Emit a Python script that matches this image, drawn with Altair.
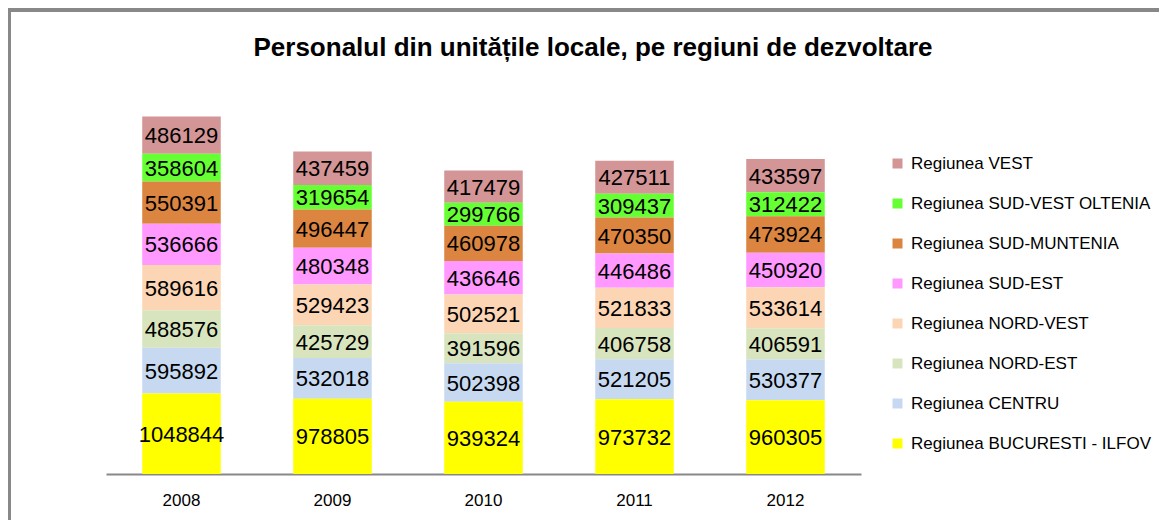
import altair as alt
import pandas as pd

years = ["2008", "2009", "2010", "2011", "2012"]
regions = [
    "Regiunea VEST",
    "Regiunea SUD-VEST OLTENIA",
    "Regiunea SUD-MUNTENIA",
    "Regiunea SUD-EST",
    "Regiunea NORD-VEST",
    "Regiunea NORD-EST",
    "Regiunea CENTRU",
    "Regiunea BUCURESTI - ILFOV",
]
colors = ["#D39595", "#66FF33", "#DB8540", "#FF99FF", "#FCD5B5", "#D7E4BD", "#C6D9F1", "#FFFF00"]

vest = [486129, 437459, 417479, 427511, 433597]
sud_vest_oltenia = [358604, 319654, 299766, 309437, 312422]
sud_muntenia = [550391, 496447, 460978, 470350, 473924]
sud_est = [536666, 480348, 436646, 446486, 450920]
nord_vest = [589616, 529423, 502521, 521833, 533614]
nord_est = [488576, 425729, 391596, 406758, 406591]
centru = [595892, 532018, 502398, 521205, 530377]
bucuresti_ilfov = [1048844, 978805, 939324, 973732, 960305]

series = [vest, sud_vest_oltenia, sud_muntenia, sud_est, nord_vest, nord_est, centru, bucuresti_ilfov]

rows = []
for i, (reg, vals) in enumerate(zip(regions, series)):
    for y, v in zip(years, vals):
        rows.append({"year": y, "region": reg, "value": v, "ord": len(regions) - 1 - i})
df = pd.DataFrame(rows)

FONT = "Liberation Sans"

base = alt.Chart(df).transform_stack(
    stack="value", groupby=["year"], as_=["y0", "y1"],
    sort=[alt.SortField("ord", order="ascending")],
).transform_calculate(mid="(datum.y0 + datum.y1) / 2")

x_enc = alt.X("year:N", title=None, sort=years,
              scale=alt.Scale(paddingInner=0.48, paddingOuter=0.24),
              axis=alt.Axis(labelAngle=0, labelFont=FONT, labelFontSize=17, labelColor="#000",
                            ticks=False, domainColor="#888", domainWidth=2, labelPadding=18,
                            grid=False))
y_scale = alt.Scale(domain=[0, 5000000], nice=False)

bars = base.mark_bar().encode(
    x=x_enc,
    y=alt.Y("y0:Q", scale=y_scale, axis=None),
    y2="y1:Q",
    color=alt.Color("region:N", scale=alt.Scale(domain=regions, range=colors),
                    legend=alt.Legend(title=None, orient="none", legendX=783, legendY=65,
                                      symbolType="square", symbolSize=100, symbolStrokeWidth=0,
                                      labelFont=FONT, labelFontSize=17, labelColor="#000",
                                      labelOffset=5, rowPadding=22, labelLimit=400)),
)

labels = base.mark_text(font=FONT, fontSize=22, color="#000", baseline="middle", dy=1).encode(
    x=alt.X("year:N", sort=years),
    y=alt.Y("mid:Q", scale=y_scale),
    text=alt.Text("value:Q", format="d"),
)

frame_top = alt.Chart(df).mark_rule(color="#888", strokeWidth=2.5).encode(
    x=alt.value(-98), x2=alt.value(1060), y=alt.value(-80))
frame_left = alt.Chart(df).mark_rule(color="#888", strokeWidth=2.5).encode(
    x=alt.value(-97), y=alt.value(-80), y2=alt.value(440))

chart = alt.layer(frame_top, frame_left, bars, labels).properties(
    width=755, height=384,
    autosize=alt.AutoSizeParams(type="none"),
    padding={"left": 98, "top": 82, "right": 298, "bottom": 46},
    title=alt.Title("Personalul din unitățile locale, pe regiuni de dezvoltare",
                    font=FONT, fontSize=26, fontWeight="bold", color="#000",
                    anchor="start", align="center", frame="group", dx=487, dy=101,
                    baseline="alphabetic", offset=28),
).configure_view(stroke=None)

chart.save("out.html", embed_options={"renderer": "svg", "actions": False})
